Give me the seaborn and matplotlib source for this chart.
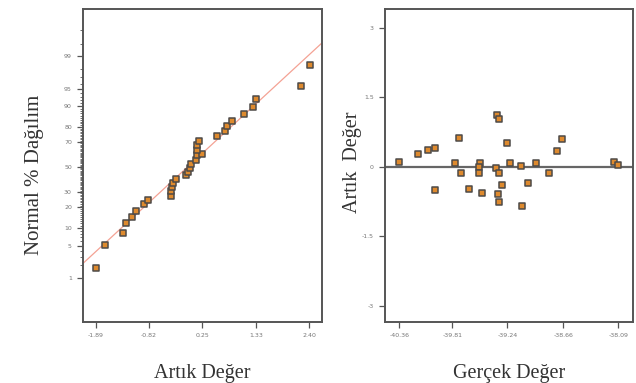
import numpy as np
import pandas as pd
import matplotlib
matplotlib.use("Agg")
import matplotlib.pyplot as plt
import seaborn as sns
from statistics import NormalDist

# Left panel: normal probability plot of residuals
resid = [-1.89, -1.71, -1.34, -1.29, -1.165, -1.085, -0.923, -0.836, -0.385, -0.373,
         -0.359, -0.339, -0.279, -0.084, -0.043, 0.003, 0.023, 0.124, 0.138, 0.245,
         0.138, 0.15, 0.19, 0.553, 0.714, 0.742, 0.855, 1.085, 1.278, 1.32, 2.24, 2.41]
normal_pct = [1.7, 5.1, 8.2, 11.9, 14.9, 18.0, 21.7, 24.4, 27.2, 30.7,
              34.0, 37.0, 40.0, 43.0, 46.0, 48.9, 52.5, 55.8, 59.9, 60.7,
              63.9, 67.7, 70.9, 74.2, 77.5, 80.5, 83.3, 86.5, 89.5, 92.3, 95.5, 98.4]
line_mean = -0.05
line_sd = 1.04
left_xticks = ["-1.89", "-0.82", "0.25", "1.33", "2.40"]
left_yticks = [1, 5, 10, 20, 30, 50, 70, 80, 90, 95, 99]

# Right panel: residuals vs actual values
actual = [-40.36, -40.163, -40.066, -39.99, -39.99, -39.78, -39.745, -39.72, -39.642, -39.524,
          -39.531, -39.531, -39.5, -39.362, -39.344, -39.324, -39.334, -39.33, -39.324, -39.3,
          -39.24, -39.21, -39.096, -39.089, -39.03, -38.944, -38.812, -38.73, -38.678, -38.14,
          -38.09]
resid2 = [0.094, 0.274, 0.36, 0.41, -0.504, 0.086, 0.612, -0.144, -0.468, 0.086,
          0.0, -0.144, -0.56, -0.02, 1.116, 1.03, -0.576, -0.756, -0.13, -0.396,
          0.518, 0.086, 0.022, -0.842, -0.36, 0.086, -0.144, 0.338, 0.598, 0.094,
          0.036]
right_xticks = ["-40.36", "-39.81", "-39.24", "-38.66", "-38.09"]
right_yticks = [3, 1.5, 0, -1.5, -3]

nd = NormalDist()
_inv = np.vectorize(nd.inv_cdf, otypes=[float])
_cdf = np.vectorize(nd.cdf, otypes=[float])


def to_z(p):
    p = np.clip(np.asarray(p, dtype=float) / 100.0, 1e-9, 1 - 1e-9)
    return _inv(p)


def from_z(z):
    return _cdf(np.asarray(z, dtype=float)) * 100.0


sns.set_style("ticks")
plt.rcParams['font.family'] = ['DejaVu Sans']

face = '#DE8A2E'
edge = '#4D4A48'
spine_c = '#555555'
tick_c = '#777777'
xlabel_font = dict(family='Liberation Serif', size=14.5, color='#333333')
ylabel_font = dict(family='Liberation Serif', size=15, color='#333333')

fig = plt.figure(figsize=(6.36, 3.83), dpi=100)
ax1 = fig.add_axes([0.1305, 0.159, 0.376, 0.817])
ax2 = fig.add_axes([0.605, 0.159, 0.390, 0.817])

# ---- left panel
df1 = pd.DataFrame({'Artık': resid, 'Normal': normal_pct})
ax1.set_yscale('function', functions=(to_z, from_z))
xs = np.linspace(-2.2, 2.7, 50)
ax1.plot(xs, from_z((xs - line_mean) / line_sd), color='#F4A294', lw=0.9, zorder=1)
sns.scatterplot(data=df1, x='Artık', y='Normal', marker='s', s=20, color=face,
                edgecolor=edge, linewidth=1.1, ax=ax1, zorder=3)
ax1.set_xlim(-2.15, 2.66)
ax1.set_ylim(float(from_z(-3.25)), float(from_z(3.31)))
ax1.set_xticks([float(t) for t in left_xticks])
ax1.set_xticklabels(left_xticks)
ax1.set_yticks(left_yticks)
ax1.set_yticklabels([str(t) for t in left_yticks])
ax1.set_yticks(list(range(1, 100)) + [99.5, 99.8], minor=True)
ax1.tick_params(axis='y', which='minor', length=2.5, width=0.6, color=spine_c)
ax1.set_xlabel('Artık Değer', fontdict=xlabel_font)
ax1.set_ylabel('Normal % Dağılım', fontdict=ylabel_font)
ax1.xaxis.set_label_coords(0.5, -0.135)
ax1.yaxis.set_label_coords(-0.165, 0.47)

# ---- right panel
df2 = pd.DataFrame({'Gerçek': actual, 'Artık': resid2})
ax2.axhline(0, color='#666666', lw=1.6, zorder=1)
sns.scatterplot(data=df2, x='Gerçek', y='Artık', marker='s', s=20, color=face,
                edgecolor=edge, linewidth=1.1, ax=ax2, zorder=3)
ax2.set_xlim(-40.51, -37.94)
ax2.set_ylim(-3.35, 3.4)
ax2.set_xticks([float(t) for t in right_xticks])
ax2.set_xticklabels(right_xticks)
ax2.set_yticks(right_yticks)
ax2.set_yticklabels([str(t) for t in right_yticks])
ax2.set_xlabel('Gerçek Değer', fontdict=xlabel_font)
ax2.set_ylabel('Artık  Değer', fontdict=xlabel_font)
ax2.xaxis.set_label_coords(0.5, -0.135)
ax2.yaxis.set_label_coords(-0.09, 0.51)

for ax in (ax1, ax2):
    for sp in ax.spines.values():
        sp.set_color(spine_c)
        sp.set_linewidth(1.4)
    ax.tick_params(axis='both', which='major', length=4, width=0.9, color=spine_c,
                   labelsize=4.5, labelcolor=tick_c, pad=4)
    ax.grid(False)

fig.savefig('out.png', dpi=100)
plt.close(fig)
